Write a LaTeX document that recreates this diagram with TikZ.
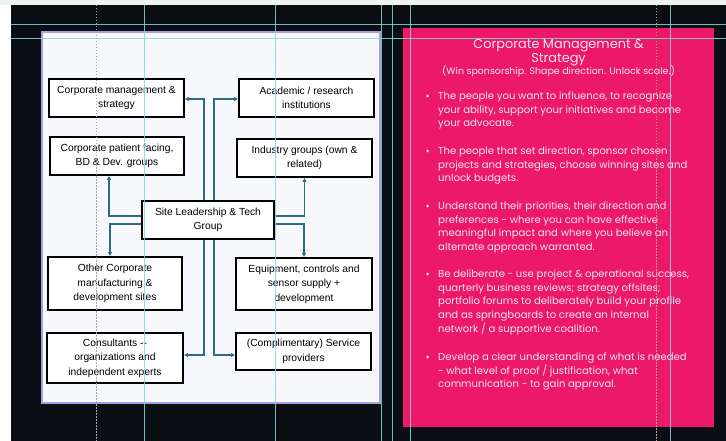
\documentclass[tikz,border=0pt]{standalone}
\usepackage{fontspec}
\setmainfont{Liberation Sans}
\newfontfamily\roundfont{Poppins}
\usetikzlibrary{arrows.meta}

\definecolor{canvasdark}{HTML}{0B0E13}
\definecolor{topstrip}{HTML}{EDF3F1}
\definecolor{panelfill}{HTML}{F7F8FB}
\definecolor{panelline}{HTML}{A69FE6}
\definecolor{linkblue}{HTML}{2A6A8A}
\definecolor{cardpink}{HTML}{EC1869}
\definecolor{cardtext}{HTML}{FCE6EF}
\definecolor{guidecyan}{HTML}{7CDCDC}

\begin{document}
\begin{tikzpicture}
[x=1pt,y=-1pt,
mybox/.style={rectangle,draw=black,line width=1.6pt,fill=white,align=center,inner sep=2pt,
  font=\fontsize{10.3}{14.6}\selectfont},
link/.style={draw=linkblue,line width=1.6pt,-{Latex[length=4pt,width=4.5pt]}},
guide/.style={draw=guidecyan,line width=0.9pt,opacity=0.85},
dguide/.style={draw=gray!70,line width=0.8pt,dash pattern=on 1.5pt off 1.5pt},
bullettext/.style={anchor=north west,inner sep=0pt,align=left,text=cardtext,
  font=\roundfont\fontsize{10.1}{13.7}\selectfont},
dot/.style={circle,fill=cardtext,inner sep=0pt,minimum size=3pt},
]
\useasboundingbox (0,0) rectangle (726,441);

% backdrop
\fill[white] (0,0) rectangle (726,441);
\fill[topstrip] (0,0) rectangle (726,5);
\fill[canvasdark] (11,5) rectangle (726,441);

% left panel
\draw[fill=panelfill,draw=panelline,line width=1.5pt] (42,32) rectangle (380,403);

\node [mybox,minimum width=135pt,minimum height=38pt] (cms) at (116.5,98){Corporate management \&\\strategy};
\node [mybox,minimum width=135pt,minimum height=38pt] (acad) at (306.5,98){Academic / research\\institutions};
\node [mybox,minimum width=134pt,minimum height=38pt] (cpf) at (117,156){Corporate patient facing,\\BD \& Dev. groups};
\node [mybox,minimum width=135pt,minimum height=38pt] (ind) at (304.5,158){Industry groups (own \&\\related)};
\node [mybox,minimum width=132pt,minimum height=38pt] (site) at (208,220){Site Leadership \& Tech\\Group};
\node [mybox,minimum width=134pt,minimum height=53pt] (other) at (115,283.5){Other Corporate\\manufacturing \&\\development sites};
\node [mybox,minimum width=136pt,minimum height=52pt] (equip) at (304,284){Equipment, controls and\\sensor supply +\\development};
\node [mybox,minimum width=136pt,minimum height=50pt] (cons) at (115,358){Consultants -{}-\\organizations and\\independent experts};
\node [mybox,minimum width=135pt,minimum height=37pt] (serv) at (303.5,351.5){(Complimentary) Service\\providers};

\draw[link] ([xshift=-4pt]site.north) |- ([yshift=-1pt]cms.east);
\draw[link] ([xshift=6pt]site.north) |- ([yshift=-1pt]acad.west);
\draw[link] ([yshift=4pt]site.west) -| ([xshift=-8pt]cpf.south);
\draw[link] ([yshift=4pt]site.east) -| (ind.south);
\draw[link] ([yshift=-4pt]site.west) -| ([xshift=-5pt]other.north);
\draw[link] ([yshift=-4pt]site.east) -| (equip.north);
\draw[link] ([xshift=-4pt]site.south) |- ([yshift=3pt]cons.east);
\draw[link] ([xshift=6pt]site.south) |- ([yshift=-3.5pt]serv.west);

% right card
\fill[cardpink] (403,28) rectangle (714,427);
\node [text=cardtext,align=center,font=\roundfont\fontsize{12.9}{14.5}\selectfont] (title) at (558.5,52.5){Corporate Management \&\\Strategy};
\node [text=cardtext,font=\roundfont\fontsize{9.45}{10}\selectfont] (sub) at (558.5,71){(Win sponsorship. Shape direction. Unlock scale.)};

\node [dot] (d1) at (427.5,96){};
\node [bullettext] (t1) at (438,91.5){The people you want to influence, to recognize\\your ability, support your initiatives and become\\your advocate.};
\node [dot] (d2) at (427.5,151){};
\node [bullettext] (t2) at (438,146.5){The people that set direction, sponsor chosen\\projects and strategies, choose winning sites and\\unlock budgets.};
\node [dot] (d3) at (427.5,206){};
\node [bullettext] (t3) at (438,201.5){Understand their priorities, their direction and\\preferences - where you can have effective\\meaningful impact and where you believe an\\alternate approach warranted.};
\node [dot] (d4) at (427.5,274){};
\node [bullettext] (t4) at (438,269.5){Be deliberate - use project \& operational success,\\quarterly business reviews; strategy offsites;\\portfolio forums to deliberately build your profile\\and as springboards to create an internal\\network / a supportive coalition.};
\node [dot] (d5) at (427.5,357){};
\node [bullettext] (t5) at (438,352.5){Develop a clear understanding of what is needed\\- what level of proof / justification, what\\communication - to gain approval.};

% layout guides
\draw[guide] (11,24) -- (726,24);
\draw[guide] (11,38) -- (726,38);
\foreach \gx in {144,275,381,392,410,670}
  \draw[guide] (\gx,5) -- (\gx,441);
\draw[dguide] (96,5) -- (96,441);
\draw[dguide] (656,5) -- (656,441);
\end{tikzpicture}
\end{document}
